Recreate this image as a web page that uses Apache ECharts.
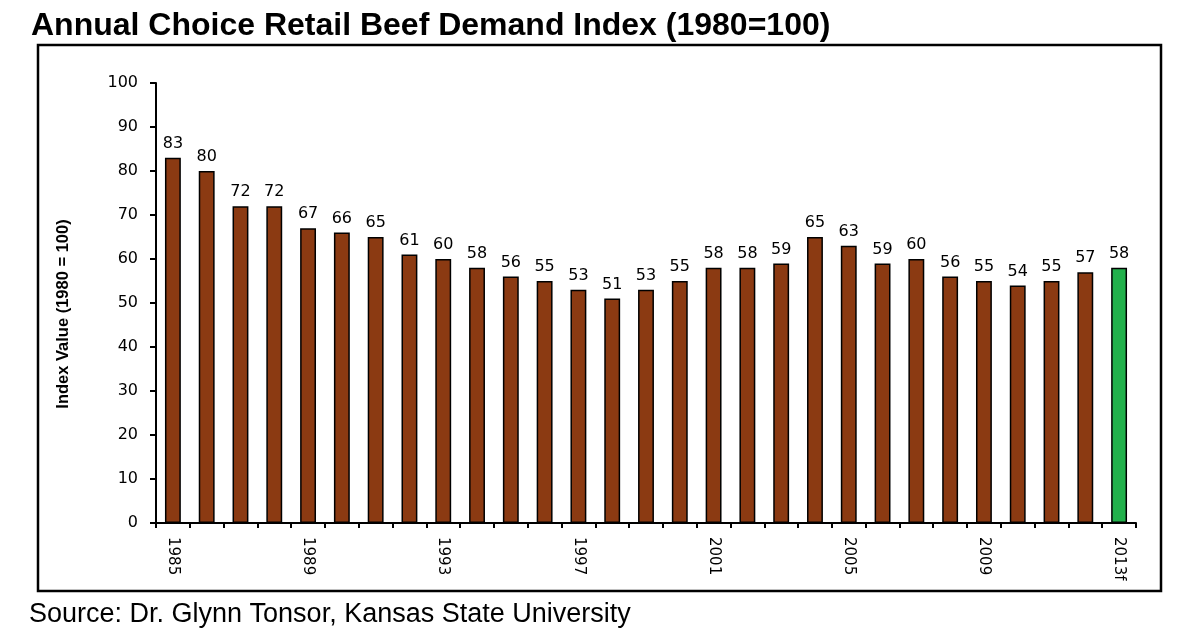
<!DOCTYPE html>
<html>
<head>
<meta charset="utf-8">
<script src="https://cdn.jsdelivr.net/npm/echarts@6/dist/echarts.min.js"></script>
<style>
  html, body { margin: 0; padding: 0; background: #fff; }
  #chart { width: 1200px; height: 636px; }
</style>
</head>
<body>
<div id="chart"></div>
<script>
var years = ['1985','1986','1987','1988','1989','1990','1991','1992','1993','1994',
	'1995','1996','1997','1998','1999','2000','2001','2002','2003','2004',
	'2005','2006','2007','2008','2009','2010','2011','2012','2013f'];
var demandIndex = [83,80,72,72,67,66,65,61,60,58,56,55,53,51,53,55,58,58,59,65,63,59,60,56,55,54,55,57,58];
var forecastYear = '2013f';
var yTicks = [0,10,20,30,40,50,60,70,80,90,100];

var brown = '#8b3a12';
var green = '#22b14c';

var chart = echarts.init(document.getElementById('chart'));

var barData = demandIndex.map(function (v, i) {
	return {
		value: v,
		itemStyle: { color: years[i] === forecastYear ? green : brown }
	};
});

var option = {
	backgroundColor: '#fff',
	animation: false,
	title: {
		text: 'Annual Choice Retail Beef Demand Index (1980=100)',
		left: 26,
		top: 5,
		textStyle: { fontFamily: 'Liberation Sans', fontWeight: 'bold', fontSize: 32, color: '#000' }
	},
	graphic: [
		{
			type: 'rect',
			shape: { x: 38, y: 45, width: 1123, height: 546 },
			style: { fill: 'none', stroke: '#000', lineWidth: 2.5 },
			z: 0
		},
		{
			type: 'text',
			left: 29,
			top: 601,
			style: { text: 'Source: Dr. Glynn Tonsor, Kansas State University', font: '27px "Liberation Sans"', fill: '#000' }
		}
	],
	grid: { left: 156, right: 64, top: 83, bottom: 113 },
	xAxis: {
		type: 'category',
		data: years,
		axisLine: { lineStyle: { color: '#000', width: 2 } },
		axisTick: { show: true, interval: 0, length: 5, lineStyle: { color: '#000', width: 2 } },
		axisLabel: {
			interval: 3,
			rotate: -90,
			margin: 14,
			fontFamily: 'DejaVu Sans',
			fontSize: 15,
			color: '#000'
		}
	},
	yAxis: {
		type: 'value',
		min: yTicks[0],
		max: yTicks[yTicks.length - 1],
		interval: 10,
		name: 'Index Value (1980 = 100)',
		nameLocation: 'middle',
		nameGap: 84,
		nameTextStyle: {
			fontFamily: 'Liberation Sans', fontWeight: 'bold', fontSize: 16.5, color: '#000',
			padding: [0, 22, 0, 0]
		},
		splitLine: { show: false },
		axisLine: { show: true, lineStyle: { color: '#000', width: 2 } },
		axisTick: { show: true, length: 6, lineStyle: { color: '#000', width: 2 } },
		axisLabel: { margin: 18, fontFamily: 'DejaVu Sans', fontSize: 16, color: '#000' }
	},
	series: [{
		type: 'bar',
		data: barData,
		barWidth: '47%',
		itemStyle: { borderColor: '#000', borderWidth: 1.5 },
		label: {
			show: true,
			position: 'top',
			distance: 6,
			fontFamily: 'DejaVu Sans',
			fontSize: 16,
			color: '#000'
		}
	}]
};

chart.setOption(option);
</script>
</body>
</html>
